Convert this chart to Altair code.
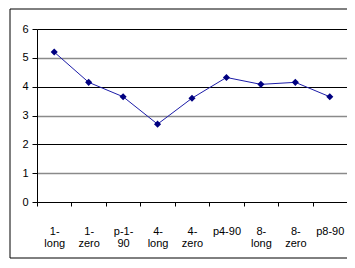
import altair as alt
import pandas as pd

categories = ["1- long", "1- zero", "p-1- 90", "4- long", "4- zero",
              "p4-90", "8- long", "8- zero", "p8-90"]
values = [5.2, 4.15, 3.65, 2.7, 3.6, 4.32, 4.08, 4.15, 3.65]
y_ticks = [0, 1, 2, 3, 4, 5, 6]

df = pd.DataFrame({"cat": categories, "val": values})

FONT = "Liberation Sans, Arial"

x = alt.X("cat:N", sort=categories, title=None,
          scale=alt.Scale(type="band", paddingInner=0, paddingOuter=0),
          axis=alt.Axis(labelAngle=0, tickBand="extent", domainColor="black",
                        tickColor="black", tickSize=4, labelPadding=19,
                        labelLineHeight=12, labelFont=FONT, labelFontSize=11,
                        labelColor="black",
                        labelExpr="split(datum.label, ' ')"))
y = alt.Y("val:Q", title=None,
          scale=alt.Scale(domain=[0, 6], nice=False),
          axis=alt.Axis(values=y_ticks, domainColor="black", tickColor="black",
                        tickSize=5, labelPadding=4, labelFont=FONT,
                        labelFontSize=11, labelColor="black",
                        gridColor={"condition": {"test": "datum.value % 2 == 1", "value": "#8a8a8a"}, "value": "black"},
                        gridWidth={"condition": {"test": "datum.value % 2 == 1", "value": 1.6}, "value": 1}))

base = alt.Chart(df)
line = base.mark_line(color="#1c1ca8", strokeWidth=1).encode(x=x, y=y)
pts = base.mark_point(shape="diamond", filled=True, size=50, color="#000080", opacity=1).encode(x=x, y=y)

frame = alt.Chart(pd.DataFrame({"a": [0]})).mark_rect(
    fill=None, stroke="black", strokeWidth=1
).encode(x=alt.value(-27), x2=alt.value(400), y=alt.value(-20), y2=alt.value(229))

chart = alt.layer(line, pts, frame).properties(
    width=310, height=173,
    autosize=alt.AutoSizeParams(type="none"),
    padding={"left": 29, "top": 21, "right": 0, "bottom": 57},
).configure_view(stroke=None).configure(background="white")

chart.save("out.html", embed_options={"renderer": "svg", "actions": False})
